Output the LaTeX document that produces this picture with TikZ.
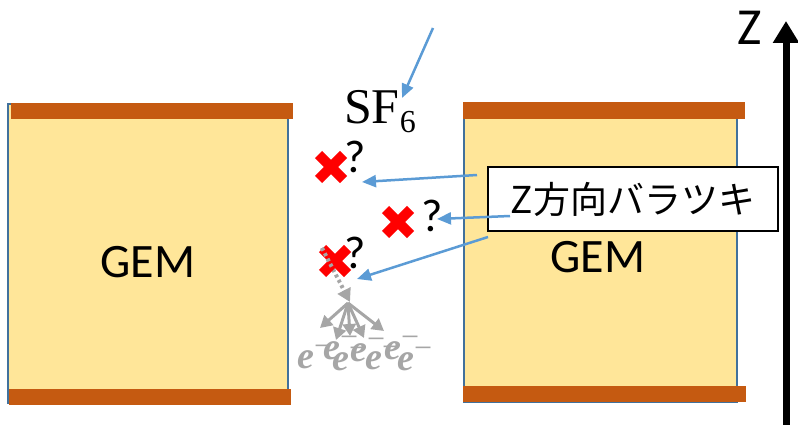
\documentclass[tikz,border=0pt]{standalone}
\usepackage{fontspec}
\setmainfont{Carlito}
\newfontfamily\cjkfont{Noto Sans CJK JP}
\newfontfamily\seriffont{Liberation Serif}
\usetikzlibrary{arrows.meta,calc}
\definecolor{gemfill}{HTML}{FFE699}
\definecolor{gembar}{HTML}{C55A11}
\definecolor{gemline}{HTML}{41719C}
\definecolor{arrowblue}{HTML}{5B9BD5}
\definecolor{egrey}{HTML}{A6A6A6}
\tikzset{
  gembody/.style={fill=gemfill, draw=gemline, line width=2pt},
  gemplate/.style={fill=gembar, draw=none},
  gemlabel/.style={font=\fontsize{48}{50}\selectfont},
  qmark/.style={font=\fontsize{46}{48}\selectfont},
  bluearrow/.style={draw=arrowblue, line width=2.5pt, -{Triangle[length=14pt,width=12pt]}},
  greyarrow/.style={draw=egrey, line width=3pt, -{Triangle[length=12pt,width=13pt]}},
  redx/.style={draw=red, line width=10pt, line cap=butt},
  elabel/.style={text=egrey, font=\fontsize{38}{40}\selectfont\seriffont\bfseries\itshape, inner sep=0pt, anchor=base west},
}
\newcommand{\redcross}[2]{%
  \draw[redx] (#1-12.5,#2-12.5) -- (#1+12.5,#2+12.5);
  \draw[redx] (#1-12.5,#2+12.5) -- (#1+12.5,#2-12.5);}
\newcommand{\elec}[3]{\node[elabel] (#1) at (#2,#3) {e\raisebox{12pt}{\fontsize{32}{32}\selectfont\upshape\mdseries −}};}
\begin{document}
\begin{tikzpicture}[x=1pt,y=-1pt]
\useasboundingbox (0,0) rectangle (798,425);
% left GEM
\draw[gembody] (8,104) rectangle (288,403);
\fill[gemplate] (11,103) rectangle (293,119);
\fill[gemplate] (9,389) rectangle (291,405);
\node[gemlabel] (gemL) at (148,262) {GEM};
% right GEM
\draw[gembody] (464,104) rectangle (737,402);
\fill[gemplate] (463,102) rectangle (745,119);
\fill[gemplate] (463,386) rectangle (746,402);
\node[gemlabel] (gemR) at (598,257) {GEM};
% Z axis
\coordinate (zb) at (786,425);
\coordinate (zt) at (786,21);
\draw[line width=7pt, -{Triangle[length=22pt,width=25pt]}] (zb) -- (zt);
\node[font=\fontsize{52}{54}\selectfont] (zlab) at (750,28) {Z};
% SF6
\node[font=\fontsize{50}{52}\selectfont\seriffont, inner sep=0pt] (sf6) at (380,112) {SF\raisebox{-9pt}{\fontsize{32}{33}\selectfont 6}};
\coordinate (sfstart) at (433,28);
\coordinate (sftip) at (402,98);
\draw[bluearrow] (sfstart) -- (sftip);
% crosses and question marks
\redcross{331}{167}
\redcross{398}{222}
\node[qmark] (q1) at (355,157) {?};
\node[qmark] (q2) at (432,216) {?};
% electrons
\coordinate (d0) at (322,248);
\coordinate (d1) at (350,302);
\foreach \tx/\ty in {320/328, 336/340, 350/336, 364/338, 384/331}{
  \draw[greyarrow] (348,303) -- (\tx,\ty);
}
\draw[draw=egrey, line width=4pt, dash pattern=on 3pt off 3pt, -{Triangle[length=13pt,width=14pt]}] (d0) -- (d1);
\redcross{335}{261}
\draw[draw=egrey, line width=4pt, dash pattern=on 3pt off 3pt] (d0) -- ($(d0)!0.35!(d1)$);
\node[qmark] (q3) at (355,253) {?};
\elec{e1}{297}{368}
\elec{e2}{323}{359}
\elec{e3}{332}{370}
\elec{e4}{350}{361}
\elec{e5}{365}{369}
\elec{e6}{384}{359}
\elec{e7}{397}{370}
% label box
\node[draw=black, line width=1.5pt, fill=white, minimum width=290pt, minimum height=64pt, inner sep=0pt, font=\fontsize{37}{40}\selectfont\cjkfont] (box) at (633,199) {Z方向バラツキ};
% blue arrows
\coordinate (a1s) at (477,175);
\coordinate (a1t) at (362,182);
\coordinate (a2s) at (510,216);
\coordinate (a2t) at (437,219);
\coordinate (a3s) at (488,237);
\coordinate (a3t) at (357,279);
\draw[bluearrow] (a1s) -- (a1t);
\draw[bluearrow] (a2s) -- (a2t);
\draw[bluearrow] (a3s) -- (a3t);
\end{tikzpicture}
\end{document}
